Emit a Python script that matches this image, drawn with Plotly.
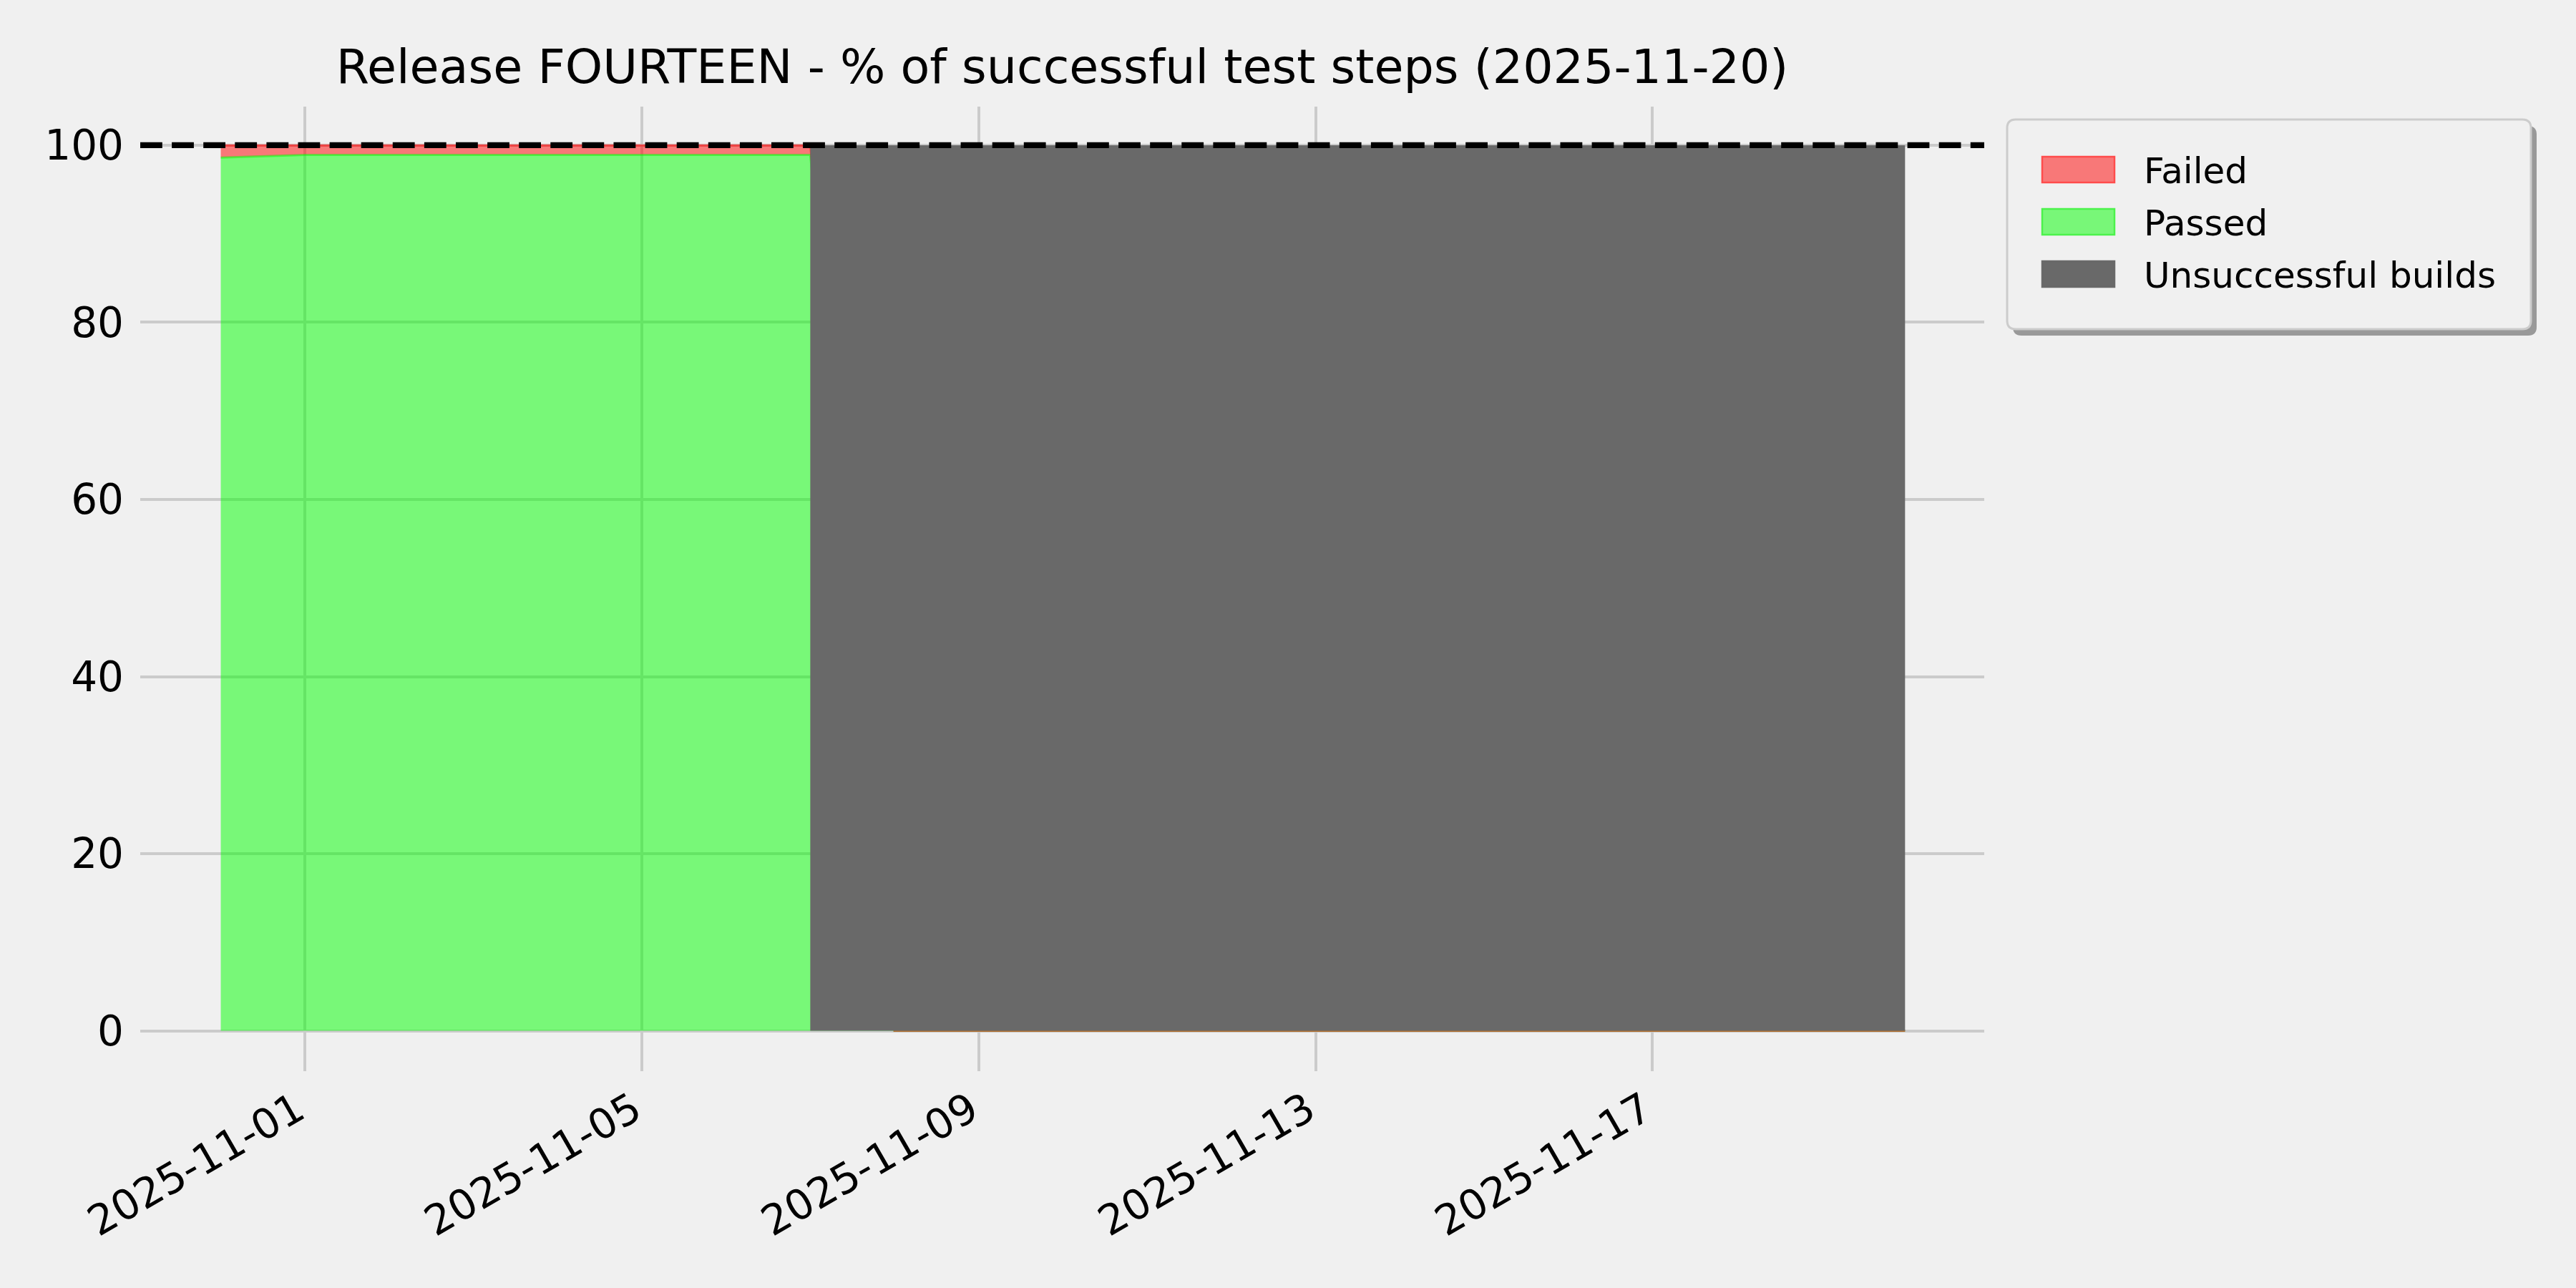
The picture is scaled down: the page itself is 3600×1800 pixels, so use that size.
import plotly.graph_objects as go

# ---- data ----
dates = ["2025-10-31", "2025-11-01", "2025-11-02", "2025-11-03", "2025-11-04",
         "2025-11-05", "2025-11-06", "2025-11-07", "2025-11-08", "2025-11-09",
         "2025-11-10", "2025-11-11", "2025-11-12", "2025-11-13", "2025-11-14",
         "2025-11-15", "2025-11-16", "2025-11-17", "2025-11-18", "2025-11-19",
         "2025-11-20"]
passed = [98.6, 98.9, 98.9, 98.9, 98.9, 98.9, 98.9, 98.9,
          0, 0, 0, 0, 0, 0, 0, 0, 0, 0, 0, 0, 0]
failed = [1.4, 1.1, 1.1, 1.1, 1.1, 1.1, 1.1, 1.1,
          0, 0, 0, 0, 0, 0, 0, 0, 0, 0, 0, 0, 0]
unsuccessful = [0, 0, 0, 0, 0, 0, 0,
                100, 100, 100, 100, 100, 100, 100, 100, 100, 100, 100, 100, 100, 100]
target = 100
x_ticks = ["2025-11-01", "2025-11-05", "2025-11-09", "2025-11-13", "2025-11-17"]
y_ticks = [0, 20, 40, 60, 80, 100]
legend_labels = ["Failed", "Passed", "Unsuccessful builds"]
title = "Release FOURTEEN - % of successful test steps (2025-11-20)"

# ---- style ----
BG = "#f0f0f0"
GRID = "#cbcbcb"
FONT = "DejaVu Sans"
GREEN_FILL = "rgba(0,255,0,0.5)"
RED_FILL = "rgba(255,0,0,0.5)"
GRAY = "#696969"

W, H = 3600, 1800
L, R, T, B = 196, 2773, 149, 1497  # plot area in pixels


def px(x):
    return (x - L) / (R - L)


def py(y):
    return (B - y) / (B - T)


fig = go.Figure()
fig.add_trace(go.Scatter(
    x=dates, y=passed, name="Passed", stackgroup="tests", mode="lines",
    line=dict(color=GREEN_FILL, width=3), fillcolor=GREEN_FILL, showlegend=False))
fig.add_trace(go.Scatter(
    x=dates, y=failed, name="Failed", stackgroup="tests", mode="lines",
    line=dict(color=RED_FILL, width=3), fillcolor=RED_FILL, showlegend=False))
fig.add_trace(go.Scatter(
    x=dates, y=unsuccessful, name="Unsuccessful builds", mode="lines",
    line=dict(color=GRAY, width=0, shape="hv"), fill="tozeroy",
    fillcolor=GRAY, showlegend=False))

shapes = []
# dashed 100% line
shapes.append(dict(type="line", xref="paper", x0=0, x1=1, yref="y", y0=target, y1=target,
                   line=dict(color="black", width=8.3, dash="30.8px,13.3px"), layer="above"))

# manual legend (shadow, box, patches)
lx0, ly0, lx1, ly1 = 2805, 167, 3537, 460
rad = 12


def rounded(x0, y0, x1, y1, r):
    X0, X1 = px(x0), px(x1)
    Y0, Y1 = py(y0), py(y1)
    rx = r / (R - L)
    ry = r / (B - T)
    return (f"M{X0+rx},{Y0} L{X1-rx},{Y0} Q{X1},{Y0} {X1},{Y0-ry} "
            f"L{X1},{Y1+ry} Q{X1},{Y1} {X1-rx},{Y1} L{X0+rx},{Y1} "
            f"Q{X0},{Y1} {X0},{Y1+ry} L{X0},{Y0-ry} Q{X0},{Y0} {X0+rx},{Y0} Z")


shapes.append(dict(type="path", xref="paper", yref="paper",
                   path=rounded(lx0 + 8, ly0 + 9, lx1 + 8, ly1 + 9, rad),
                   fillcolor="#999999", line=dict(width=0), layer="above"))
shapes.append(dict(type="path", xref="paper", yref="paper",
                   path=rounded(lx0, ly0, lx1, ly1, rad),
                   fillcolor=BG, line=dict(color="#cccccc", width=3), layer="above"))

row_y = [237, 310, 383]
patch_fill = ["#f87878", "#78f778", GRAY]
patch_edge = ["#ff4c4c", "#4cf24c", GRAY]
annotations = []
for lab, cy, fc, ec in zip(legend_labels, row_y, patch_fill, patch_edge):
    shapes.append(dict(type="rect", xref="paper", yref="paper",
                       x0=px(2854), x1=px(2955), y0=py(cy - 18), y1=py(cy + 18),
                       fillcolor=fc, line=dict(color=ec, width=2.5), layer="above"))
    annotations.append(dict(xref="paper", yref="paper", x=px(2994), y=py(cy + 2),
                            text=lab, showarrow=False, xanchor="left", yanchor="middle",
                            font=dict(family=FONT, size=50, color="black")))

fig.update_layout(
    width=W, height=H,
    margin=dict(l=L, r=W - R, t=T, b=H - B, pad=0),
    paper_bgcolor=BG, plot_bgcolor=BG,
    font=dict(family=FONT, color="black"),
    title=dict(text=title, x=px((L + R) / 2), xref="paper", xanchor="center",
               y=1 - 93 / H, yref="container", yanchor="middle",
               font=dict(family=FONT, size=66.7, color="black")),
    shapes=shapes, annotations=annotations,
    showlegend=False,
)
fig.update_xaxes(
    type="date", range=["2025-10-30 01:03", "2025-11-20 22:34"],
    tickvals=x_ticks, ticktext=x_ticks, tickangle=-30,
    tickfont=dict(family=FONT, size=58, color="black"),
    showgrid=True, gridcolor=GRID, gridwidth=4,
    zeroline=False, showline=False, ticks="", ticklabelstandoff=8,
    ticklabelshift=-11,
)
fig.update_yaxes(
    range=[-4.56, 104.36], tickvals=y_ticks,
    tickfont=dict(family=FONT, size=58, color="black"),
    showgrid=True, gridcolor=GRID, gridwidth=4,
    zeroline=False, showline=False, ticks="", ticklabelstandoff=22,
)

fig.write_html(
    "out.html",
    config={"displayModeBar": False},
    post_script="document.body.style.margin='0';document.body.style.background='#f0f0f0';",
)
